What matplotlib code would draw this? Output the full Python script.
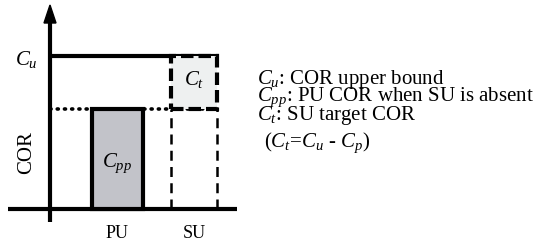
import matplotlib
matplotlib.use("Agg")
import matplotlib.pyplot as plt
from matplotlib.patches import Rectangle, Polygon

plt.rcParams['mathtext.fontset'] = 'custom'
plt.rcParams['mathtext.rm'] = 'Liberation Serif'
plt.rcParams['mathtext.it'] = 'Liberation Serif:italic'
plt.rcParams['font.family'] = ['Liberation Serif', 'DejaVu Serif']

# Diagram data (COR levels, normalised so C_pp = 1)
categories = ["PU", "SU"]
cat_pos = [117.0, 194.0]
cat_width = [51, 46]
cor_pp = 1.0    # PU COR when SU absent
cor_u = 1.53    # COR upper bound
legend_lines = [r"$C_u$: COR upper bound",
                r"$C_{pp}$: PU COR when SU is absent",
                r"$C_t$: SU target COR"]
formula = r"$(C_t$=$C_u$ - $C_p)$"

fig = plt.figure(figsize=(5.40, 2.41), dpi=100)
ax = fig.add_axes([0, 0, 1, 1])
ax.set_xlim(0, 540)
ax.set_ylim(-0.32, 2.09)
ax.axis('off')

y_axis_x = 50
x_right = cat_pos[1] + cat_width[1] / 2
lw_thick = 3.0

# baseline
ax.plot([8, 237], [0, 0], color='black', lw=lw_thick, solid_capstyle='butt')
# y axis
ax.plot([y_axis_x, y_axis_x], [-0.13, 1.88], color='black', lw=lw_thick, solid_capstyle='butt')
ax.add_patch(Polygon([[y_axis_x - 6, 1.86], [y_axis_x + 6, 1.86], [y_axis_x, 2.04]],
                     closed=True, color='black'))

# Cu line
ax.plot([y_axis_x, x_right + 1.5], [cor_u, cor_u], color='black', lw=lw_thick, solid_capstyle='butt')
# dotted Cpp line
ax.plot([y_axis_x, x_right], [cor_pp, cor_pp], color='black', lw=2.6, linestyle=(0, (0.3, 1.7)),
        dash_capstyle='round')

# PU bar
pu_left = cat_pos[0] - cat_width[0] / 2
ax.add_patch(Rectangle((pu_left, 0), cat_width[0], cor_pp, facecolor='#c2c3c9',
                       edgecolor='black', lw=lw_thick, zorder=3))
ax.text(cat_pos[0], cor_pp * 0.46, r"$C_{pp}$", ha='center', va='center', fontsize=15, zorder=4)

# SU dashed columns
su_left = cat_pos[1] - cat_width[1] / 2
for xx in [su_left, x_right]:
    ax.plot([xx, xx], [0, cor_pp], color='black', lw=1.8, linestyle=(0, (4, 2.5)))
# Ct box
ax.add_patch(Rectangle((su_left, cor_pp), cat_width[1], cor_u - cor_pp, facecolor='#eef0f0',
                       edgecolor='black', lw=lw_thick, linestyle=(0, (3, 1.2)), zorder=3))
ax.text(cat_pos[1], (cor_pp + cor_u) / 2 + 0.03, r"$C_t$", ha='center', va='center', fontsize=15, zorder=4)

# labels
ax.text(26, cor_u - 0.04, r"$C_u$", ha='center', va='center', fontsize=15)
ax.text(27, 0.56, "COR", rotation=90, ha='center', va='center', fontsize=15)
for p, c in zip(cat_pos, categories):
    ax.text(p, -0.25, c, ha='center', va='center', fontsize=13)

# legend text
ax.text(257, 0.89, "\n".join(legend_lines), ha='left', va='baseline', fontsize=15,
        linespacing=0.68)
ax.text(264, 0.62, formula, ha='left', va='baseline', fontsize=15)

fig.savefig("out.png", dpi=100)
